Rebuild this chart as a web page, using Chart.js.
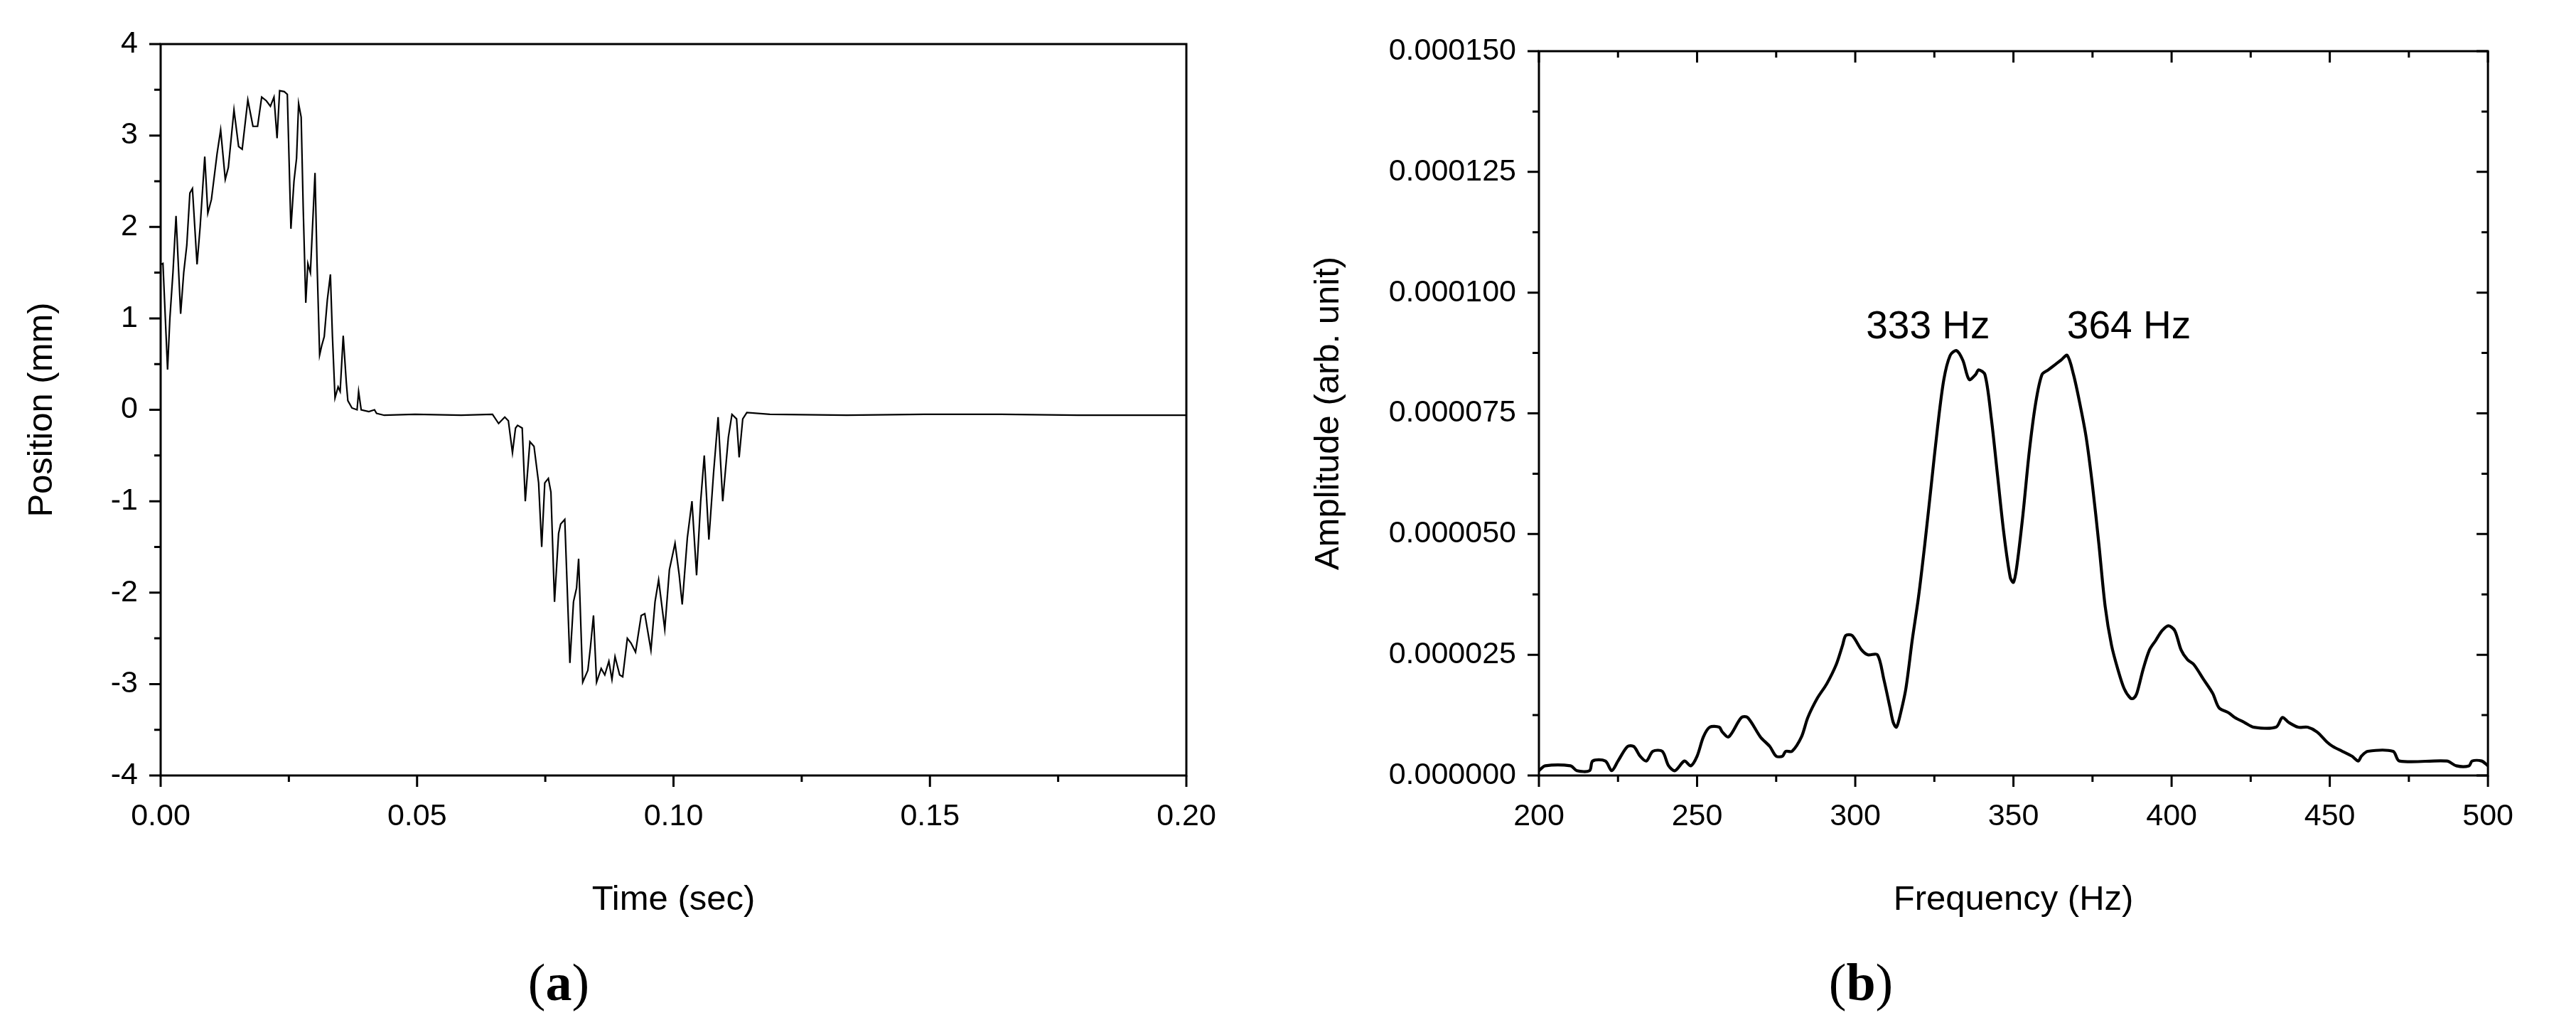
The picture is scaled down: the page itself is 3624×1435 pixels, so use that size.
<!DOCTYPE html>
<html><head><meta charset="utf-8">
<script src="https://cdn.jsdelivr.net/npm/chart.js@4/dist/chart.umd.min.js"></script>
<style>
html,body{margin:0;padding:0;background:#fff;width:3624px;height:1435px;overflow:hidden}
.c{position:absolute;top:0}
.lab{position:absolute;font-family:"Liberation Serif",serif;font-size:74px;color:#000;transform:translateX(-50%)}
</style></head><body>
<div class="c" style="left:0;width:1760px;height:1300px"><canvas id="a"></canvas></div>
<div class="c" style="left:1800px;width:1760px;height:1300px"><canvas id="b"></canvas></div>
<div class="lab" style="left:786px;top:1340px">(<b>a</b>)</div>
<div class="lab" style="left:2618px;top:1340px">(<b>b</b>)</div>
<script>
const timeSec=[0,0.00045,0.00135,0.0018,0.0024,0.0030,0.0039,0.0045,0.0051,0.0057,0.0062,0.0071,0.0077,0.0086,0.0092,0.0099,0.0110,0.0117,0.0126,0.0132,0.0143,0.0152,0.0159,0.0170,0.0180,0.0189,0.0197,0.0206,0.0214,0.0221,0.0227,0.0232,0.0241,0.0247,0.0254,0.0260,0.0265,0.0269,0.0274,0.0278,0.0283,0.0287,0.0292,0.0301,0.0305,0.0310,0.0314,0.0319,0.0325,0.0331,0.0335,0.0340,0.0346,0.0350,0.0356,0.0362,0.0365,0.0373,0.0383,0.0386,0.0391,0.0406,0.0417,0.0421,0.0436,0.0496,0.0586,0.0647,0.0659,0.0671,0.0678,0.0686,0.0692,0.0696,0.0705,0.0711,0.0720,0.0728,0.0737,0.0743,0.0749,0.0756,0.0761,0.0768,0.0776,0.0780,0.0788,0.0798,0.0805,0.0811,0.0815,0.0823,0.0833,0.0838,0.0844,0.0850,0.0859,0.0866,0.0874,0.0880,0.0886,0.0895,0.0901,0.0910,0.0917,0.0926,0.0937,0.0944,0.0956,0.0964,0.0971,0.0983,0.0992,0.1003,0.1011,0.1017,0.1027,0.1036,0.1045,0.1053,0.1060,0.1069,0.1078,0.1087,0.1096,0.1107,0.1114,0.1123,0.1128,0.1135,0.1143,0.1188,0.1338,0.1489,0.1639,0.1789,0.2];
const positionMm=[1.59,1.6,0.44,1.0,1.5,2.12,1.05,1.5,1.8,2.37,2.42,1.59,2.0,2.77,2.15,2.3,2.8,3.06,2.52,2.65,3.28,2.88,2.85,3.39,3.1,3.1,3.42,3.38,3.32,3.42,2.97,3.49,3.48,3.45,1.98,2.5,2.75,3.35,3.2,2.2,1.17,1.6,1.5,2.59,1.6,0.6,0.7,0.8,1.2,1.48,0.8,0.13,0.25,0.2,0.81,0.3,0.1,0.02,0.0,0.2,0.0,-0.02,0.0,-0.04,-0.06,-0.05,-0.06,-0.05,-0.15,-0.08,-0.12,-0.47,-0.2,-0.17,-0.2,-1.0,-0.35,-0.4,-0.8,-1.5,-0.8,-0.75,-0.9,-2.1,-1.35,-1.25,-1.2,-2.77,-2.1,-1.95,-1.63,-2.98,-2.85,-2.6,-2.25,-2.98,-2.83,-2.9,-2.75,-2.95,-2.7,-2.9,-2.92,-2.5,-2.55,-2.65,-2.25,-2.23,-2.63,-2.1,-1.86,-2.4,-1.75,-1.46,-1.8,-2.13,-1.4,-1.0,-1.81,-1.0,-0.5,-1.42,-0.7,-0.08,-1.0,-0.3,-0.05,-0.1,-0.52,-0.1,-0.03,-0.05,-0.06,-0.05,-0.05,-0.06,-0.06];
const freqHz=[200,202,210,212,216,217,221,223,225,228,230,232,234,236,239,241,243,246,248,250,252,254,257,258,260,264,266,270,273,275,277,278,280,283,285,288,291,294,296,297,299,302,304,307,309,311,312,313,314,316,318,320,322,324,326,328,330,332,334,336,338,339,341,343,345,347,349,350,351,353,355,357,359,361,363,365,367,369,371,373,375,377,379,381,383,385,387,388,389,391,393,395,397,399,401,403,405,407,410,413,415,418,420,423,426,433,435,437,440,443,446,449,451,454,457,459,460,462,470,472,487,490,494,495,498,500];
const amplitudeMicro=[1,2,2,1,1,3,3,1,3,6,6,4,3,5,5,2,1,3,2,4,8,10,10,9,8,12,12,8,6,4,4,5,5,8,12,16,19,23,27,29,29,26,25,25,20,14,11,10,12,18,28,37,48,60,72,82,87,88,86,82,83,84,83,74,62,50,41,40,43,54,67,77,83,84,85,86,87,83,77,70,60,48,35,27,22,18,16,16,17,22,26,28,30,31,30,26,24,23,20,17,14,13,12,11,10,10,12,11,10,10,9,7,6,5,4,3,4,5,5,3,3,2,2,3,3,2];
const timeTicks=['0.00','0.05','0.10','0.15','0.20'];
const ampTicks=['0.000000','0.000025','0.000050','0.000075','0.000100','0.000125','0.000150'];
const peakLabels=[{text:'333 Hz',x:323,y:92.7e-6},{text:'364 Hz',x:386.5,y:92.7e-6}];

const TF='"Liberation Sans", Arial, sans-serif';
const tickFont={family:TF,size:43};
const titleFont={family:TF,size:49};

function tickPlugin(xs,ys,mirrorRight,mirrorTop){
  return {id:'tk',afterDraw(ch){
    const c=ch.ctx,a=ch.chartArea,X=ch.scales.x,Y=ch.scales.y;
    c.save();c.strokeStyle='#000';c.lineWidth=3;
    c.strokeRect(a.left,a.top,a.right-a.left,a.bottom-a.top);
    c.beginPath();
    xs.forEach((v,i)=>{const p=X.getPixelForValue(v),L=i%2?9:16;
      c.moveTo(p,a.bottom);c.lineTo(p,a.bottom+L);
      if(mirrorTop){c.moveTo(p,a.top);c.lineTo(p,a.top+L);}});
    ys.forEach((v,i)=>{const p=Y.getPixelForValue(v),L=i%2?9:16;
      c.moveTo(a.left,p);c.lineTo(a.left-L,p);
      if(mirrorRight){c.moveTo(a.right,p);c.lineTo(a.right-L,p);}});
    c.stroke();c.restore();
  }};
}
function steps(min,max,st){const r=[];for(let v=min;v<=max+st/1e6;v+=st)r.push(+v.toFixed(8));return r;}

const xTA=steps(0,0.2,0.025), yTA=steps(-4,4,0.5);
new Chart(document.getElementById('a'),{
  type:'line',
  data:{datasets:[{data:timeSec.map((t,i)=>({x:t,y:positionMm[i]})),borderColor:'#000',borderWidth:2.2,pointRadius:0,tension:0}]},
  options:{responsive:true,maintainAspectRatio:false,animation:false,
    layout:{padding:{left:0,top:62,right:91,bottom:0}},
    plugins:{legend:{display:false},tooltip:{enabled:false}},
    scales:{
      x:{type:'linear',min:0,max:0.2,afterBuildTicks(s){s.ticks=timeTicks.map(Number).map(v=>({value:v}));},
        grid:{display:false},border:{display:false},
        ticks:{font:tickFont,color:'#000',padding:24,maxRotation:0,callback:(v,i)=>timeTicks[i]},
        title:{display:true,text:'Time (sec)',font:titleFont,color:'#000',padding:{top:8}},
        afterFit(s){s.height=1300-1091;}},
      y:{min:-4,max:4,afterBuildTicks(s){s.ticks=steps(-4,4,1).map(v=>({value:v}));},
        grid:{display:false},border:{display:false},
        ticks:{font:tickFont,color:'#000',padding:24,callback:v=>String(v)},
        title:{display:true,text:'Position (mm)',font:titleFont,color:'#000',padding:{top:30,bottom:0}},
        afterFit(s){s.width=226;}}
    }},
  plugins:[tickPlugin(xTA,yTA,false,false)]
});

const xTB=steps(200,500,25), yTB=steps(0,0.00015,0.0000125);
new Chart(document.getElementById('b'),{
  type:'line',
  data:{datasets:[{data:freqHz.map((f,i)=>({x:f,y:amplitudeMicro[i]*1e-6})),borderColor:'#000',borderWidth:4.2,pointRadius:0,tension:0.3}]},
  options:{responsive:true,maintainAspectRatio:false,animation:false,
    layout:{padding:{left:0,top:72,right:57,bottom:0}},
    plugins:{legend:{display:false},tooltip:{enabled:false}},
    scales:{
      x:{type:'linear',min:200,max:500,afterBuildTicks(s){s.ticks=steps(200,500,50).map(v=>({value:v}));},
        grid:{display:false},border:{display:false},
        ticks:{font:tickFont,color:'#000',padding:24,maxRotation:0,callback:v=>String(v)},
        title:{display:true,text:'Frequency (Hz)',font:titleFont,color:'#000',padding:{top:8}},
        afterFit(s){s.height=1300-1091;}},
      y:{min:0,max:0.00015,afterBuildTicks(s){s.ticks=ampTicks.map(Number).map(v=>({value:v}));},
        grid:{display:false},border:{display:false},
        ticks:{font:tickFont,color:'#000',padding:24,callback:(v,i)=>ampTicks[i]},
        title:{display:true,text:'Amplitude (arb. unit)',font:titleFont,color:'#000',padding:{top:40,bottom:0}},
        afterFit(s){s.width=365;}}
    }},
  plugins:[tickPlugin(xTB,yTB,true,true),{id:'ann',afterDraw(ch){const c=ch.ctx;c.save();c.font='55px '+TF;c.fillStyle='#000';c.textAlign='center';c.textBaseline='middle';
    peakLabels.forEach(p=>c.fillText(p.text,ch.scales.x.getPixelForValue(p.x),ch.scales.y.getPixelForValue(p.y)));c.restore();}}]
});
</script></body></html>
